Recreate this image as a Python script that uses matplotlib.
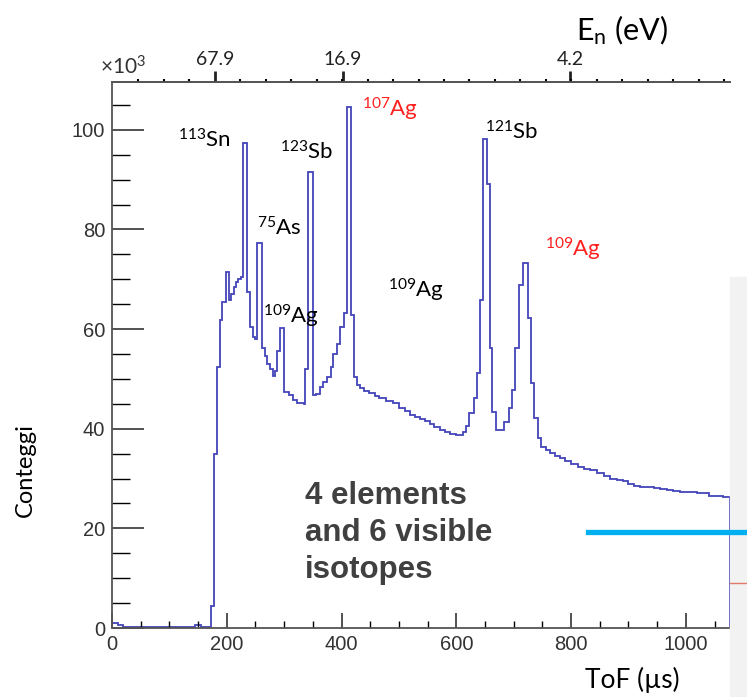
import matplotlib
matplotlib.use("Agg")
import matplotlib.pyplot as plt
import numpy as np

plt.rcParams['font.family'] = ['Lato', 'DejaVu Sans']
plt.rcParams['mathtext.default'] = 'regular'

# histogram: left edge of each step (us) and counts (x10^3)
tof_edges = [0, 10, 20, 145, 155, 172, 178, 183, 188, 192, 198, 204, 208, 212, 216,
             220, 224, 228, 236, 240, 245, 250, 253, 262, 266, 270, 275, 280, 284,
             288, 293, 300, 308, 316, 322, 334, 337, 341, 350, 356, 362, 368, 375,
             381, 386, 392, 398, 404, 409, 416, 421, 427, 433, 440, 448, 458, 466,
             478, 490, 500, 510, 519, 528, 537, 546, 554, 562, 571, 580, 589, 600,
             612, 617, 622, 630, 636, 641, 647, 654, 659, 663, 669, 684, 691, 697,
             702, 710, 716, 725, 730, 736, 742, 748, 756, 764, 772, 780, 790, 800,
             812, 822, 833, 845, 858, 868, 880, 891, 900, 909, 920, 932, 945, 955,
             967, 978, 990, 1007, 1020, 1030, 1040, 1055, 1065, 1077]
counts = [1.0, 0.6, 0.2, 0.6, 0.3, 4.5, 35.0, 52.4, 61.8, 65.4, 71.5, 65.8, 67.0,
          68.5, 69.5, 70.0, 70.5, 97.4, 67.4, 60.4, 58.4, 58.0, 77.3, 56.2, 54.5,
          53.0, 52.0, 50.5, 51.5, 55.7, 60.2, 47.4, 46.7, 45.7, 45.1, 45.0, 52.0,
          91.5, 46.7, 47.0, 48.4, 49.3, 50.3, 52.3, 55.1, 57.1, 60.4, 63.2, 104.6,
          62.8, 50.3, 48.7, 48.1, 47.6, 47.1, 46.6, 46.1, 45.6, 45.1, 44.1, 43.5,
          42.7, 42.3, 42.0, 41.6, 41.0, 40.3, 39.7, 39.3, 39.0, 38.7, 39.3, 40.5,
          43.1, 46.1, 51.2, 65.8, 98.2, 89.1, 56.2, 43.3, 39.7, 41.3, 44.1, 47.8,
          56.2, 68.8, 73.2, 62.2, 49.1, 42.1, 38.1, 36.3, 35.7, 35.1, 34.6, 34.1,
          33.6, 33.0, 32.4, 32.0, 31.7, 31.1, 30.6, 30.0, 29.7, 29.5, 29.0, 28.6,
          28.4, 28.3, 28.1, 28.0, 27.7, 27.5, 27.4, 27.3, 27.1, 27.0, 26.5, 26.4,
          26.3]

# top axis: neutron energy labels at ToF positions
energy_tof = [179, 402, 798]
energy_labels = ['67.9', '16.9', '4.2']
energy_minor_step = 44.4

# isotope labels: (mass, symbol, tof, counts x10^3, colour)
isotopes = [
    ('113', 'Sn', 115, 98.0, 'black'),
    ('123', 'Sb', 293, 95.6, 'black'),
    ('107', 'Ag', 436, 104.0, '#ff2020'),
    ('75', 'As', 253, 80.3, 'black'),
    ('109', 'Ag', 263, 62.6, 'black'),
    ('109', 'Ag', 481, 67.8, 'black'),
    ('121', 'Sb', 650, 99.6, 'black'),
    ('109', 'Ag', 754, 75.9, '#ff2020'),
]

fig = plt.figure(figsize=(7.47, 6.97), dpi=100)
W, H = 747.0, 697.0

# slide decorations on the right edge
fig.patches.append(plt.Rectangle((730 / W, 0), 17 / W, 1 - 277 / H,
                                 transform=fig.transFigure, color='#f2f2f2', zorder=0))

ax = fig.add_axes([112 / W, 1 - 628 / H, 618 / W, 546 / H])
ax.stairs(counts, tof_edges, color='#4444bb', linewidth=1.3)

ax.set_xlim(0, 1077)
ax.set_ylim(0, 109.6)

ax.set_xticks(np.arange(0, 1001, 200))
ax.set_xticks(np.arange(0, 1077, 50), minor=True)
ax.set_yticks(np.arange(0, 101, 20))
ax.set_yticks(np.arange(0, 106, 5), minor=True)
ax.set_yticklabels([str(v) for v in range(0, 101, 20)])

ax.tick_params(axis='x', which='major', direction='in', length=11, width=1.2,
               labelsize=14.5, pad=5, colors='#333333')
ax.tick_params(axis='x', which='minor', direction='in', length=5, width=1.0)
ax.tick_params(axis='y', which='major', direction='in', length=23, width=1.2,
               labelsize=14.5, pad=5, colors='#333333')
ax.tick_params(axis='y', which='minor', direction='in', length=13, width=1.0)
for lab in ax.get_xticklabels() + ax.get_yticklabels():
    lab.set_family('Liberation Sans')

ax.spines['right'].set_visible(False)
for s in ['left', 'bottom', 'top']:
    ax.spines[s].set_color('#555555')
    ax.spines[s].set_linewidth(1.3)

ax2 = ax.twiny()
ax2.set_xlim(ax.get_xlim())
ax2.set_xticks(energy_tof)
ax2.set_xticklabels(energy_labels)
minor_top = [energy_tof[0] + k * energy_minor_step for k in range(-3, 21)]
ax2.set_xticks(minor_top, minor=True)
ax2.tick_params(axis='x', which='major', direction='out', length=8, width=2,
                labelsize=14, pad=2, colors='#222222')
ax2.tick_params(axis='x', which='minor', direction='out', length=2.5, width=1.5)
for s in ['left', 'right', 'bottom']:
    ax2.spines[s].set_visible(False)
ax2.spines['top'].set_color('#555555')
ax2.spines['top'].set_linewidth(1.3)

for mass, sym, t, c, col in isotopes:
    ax.text(t, c, r'$^{%s}$%s' % (mass, sym), color=col, fontsize=16,
            ha='left', va='center')

fig.text(100 / W, 1 - 67 / H, r'×10$^{3}$', fontsize=15, color='#333333',
         ha='left', va='center')
fig.text(25 / W, 1 - 470 / H, 'Conteggi', rotation=90, fontsize=17,
         ha='center', va='center')
fig.text(680 / W, 1 - 680 / H, 'ToF (µs)', fontsize=19, ha='right', va='center')
fig.text(668 / W, 1 - 30 / H, r'E$_{n}$ (eV)', fontsize=22, ha='right', va='center')

fig.text(305 / W, 1 - 533 / H, '4 elements\nand 6 visible\nisotopes',
         fontsize=22.5, fontweight='bold', color='#404040', ha='left', va='center',
         family='Liberation Sans', linespacing=1.3)

fig.add_artist(plt.Line2D([588 / W, 1.0], [1 - 532 / H, 1 - 532 / H],
                          color='#00b0f0', linewidth=3.8))
fig.add_artist(plt.Line2D([730 / W, 1.0], [1 - 583 / H, 1 - 583 / H],
                          color='#e07a66', linewidth=1.0))

fig.savefig('out.png', dpi=100)
